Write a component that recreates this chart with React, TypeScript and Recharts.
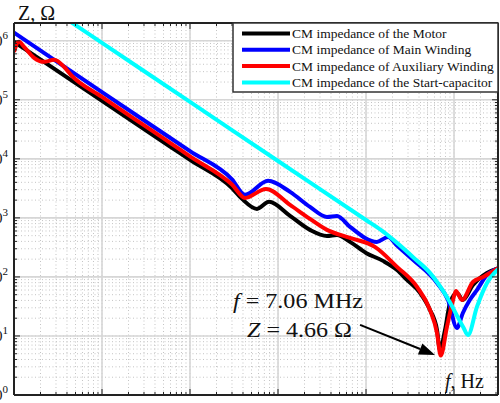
import { CartesianGrid, Line, LineChart, ReferenceLine, XAxis, YAxis } from 'recharts'

// frequency in Hz, impedance in ohms
const motorFreq = [100, 1000, 5930, 10000, 30000, 39000, 57700, 79000, 137000, 231000, 360000, 468000, 658000, 1000000, 1560000, 2250000, 2920000, 4110000, 5330000, 6410000, 6920000, 7900000, 9000000, 10800000, 12600000, 16400000, 23700000, 31600000]
const motorZ = [960000, 96000, 16200, 9600, 3200, 2100, 1420, 1870, 1080, 626, 495, 515, 392, 255, 187, 131, 89, 53.6, 27.6, 12.6, 5.8, 12.6, 36, 53.6, 40.7, 73, 117, 140]

const mainFreq = [100, 1000, 10000, 30000, 42200, 77000, 137000, 231000, 360000, 468000, 658000, 1330000, 1780000, 2250000, 3420000, 6410000, 8550000, 10800000, 12600000, 15100000, 18200000, 23700000, 31600000]
const mainZ = [1370000, 135000, 13500, 4500, 2460, 4240, 2760, 1535, 1040, 1080, 703, 392, 476, 340, 195, 79, 40.7, 13.7, 24.5, 40.7, 60, 108, 140]

const auxFreq = [100, 114, 130, 169, 219, 285, 370, 443, 1000, 5930, 10000, 30000, 42200, 73000, 137000, 231000, 360000, 658000, 1260000, 2250000, 3800000, 5330000, 6410000, 7060000, 8300000, 9750000, 10500000, 12300000, 16400000, 21400000, 31600000]
const auxZ = [650000, 960000, 790000, 515000, 440000, 477000, 363000, 265000, 112000, 18700, 11000, 3670, 2180, 3100, 1660, 962, 626, 458, 322, 148, 67.7, 27.6, 11.2, 4.66, 14.2, 40.7, 58, 40.7, 82, 100, 140]

const capFreq = [400, 1000, 10000, 100000, 1000000, 1500000, 2250000, 3500000, 5330000, 8300000, 12700000, 14400000, 18200000, 23700000, 31600000]
const capZ = [2300000, 920000, 92000, 9200, 920, 613, 377, 210, 117, 45.8, 14.2, 10.4, 31, 79, 135]

const seriesNames = [
  'CM impedance of the Motor',
  'CM impedance of Main Winding',
  'CM impedance of Auxiliary Winding',
  'CM impedance of the Start-capacitor'
]
const seriesColors = ['#000000', '#0000ff', '#ff0000', '#00ffff']

const xDecades = [1e2, 1e3, 1e4, 1e5, 1e6, 1e7]
const yDecades = [1e0, 1e1, 1e2, 1e3, 1e4, 1e5, 1e6]
const xDomain = [100, 31600000]
const yDomain = [1, 2000000]

const arrowTail = { f: 855000, z: 15.4 }
const arrowHead = { f: 6080000, z: 4.77 }

const toPoints = (freq: number[], z: number[]) => freq.map((f, i) => ({ f, z: z[i] }))
const series = [
  toPoints(motorFreq, motorZ),
  toPoints(mainFreq, mainZ),
  toPoints(auxFreq, auxZ),
  toPoints(capFreq, capZ)
]

const minorTicks = (decades: number[], max: number) =>
  decades.flatMap(d => [1, 2, 3, 4, 5, 6, 7, 8, 9].map(m => m * d)).filter(v => v <= max * 1.0001)

const xTicks = minorTicks(xDecades, xDomain[1])
const yTicks = minorTicks(yDecades, yDomain[1])

const W = 500
const H = 403
// space taken by the four axes around the plot box
const axisSize = { top: 23, right: 2, bottom: 8, left: 14 }
const plot = { left: axisSize.left, top: axisSize.top, right: W - axisSize.right, bottom: H - axisSize.bottom }
const axisColor = '#222'
const serif = '"Liberation Serif", "Times New Roman", serif'

const isDecade = (v: number) => Math.abs(Math.log10(v) - Math.round(Math.log10(v))) < 1e-6

function BottomTick({ x, payload }: any) {
  const len = isDecade(payload.value) ? 6 : 3
  return <line x1={x} x2={x} y1={plot.bottom} y2={plot.bottom - len} stroke={axisColor} />
}

function TopTick({ x, payload }: any) {
  const len = isDecade(payload.value) ? 6 : 3
  return <line x1={x} x2={x} y1={plot.top} y2={plot.top + len} stroke={axisColor} />
}

function LeftTick({ y, payload }: any) {
  const major = isDecade(payload.value)
  return (
    <g>
      <line x1={plot.left} x2={plot.left + (major ? 6 : 3)} y1={y} y2={y} stroke={axisColor} />
      {major && (
        <text x={8} y={y + 5} textAnchor="end" fontFamily={serif} fontSize={15} fill="#111">
          10<tspan dy={-7} fontSize={11}>{Math.round(Math.log10(payload.value))}</tspan>
        </text>
      )}
    </g>
  )
}

function RightTick({ y, payload }: any) {
  const len = isDecade(payload.value) ? 6 : 3
  return <line x1={plot.right} x2={plot.right - len} y1={y} y2={y} stroke={axisColor} />
}

function ArrowShape({ x1, y1, x2, y2 }: any) {
  const ang = Math.atan2(y2 - y1, x2 - x1)
  const len = 16
  const half = 6
  const bx = x2 - len * Math.cos(ang)
  const by = y2 - len * Math.sin(ang)
  const px = -Math.sin(ang) * half
  const py = Math.cos(ang) * half
  return (
    <g>
      <line x1={x1} y1={y1} x2={bx} y2={by} stroke="#000" strokeWidth={2} />
      <polygon points={`${x2},${y2} ${bx + px},${by + py} ${bx - px},${by - py}`} fill="#000" />
    </g>
  )
}

export default function App() {
  const legendTop = plot.top
  const legendLeft = 233
  const rowH = 16.3

  return (
    <div style={{ position: 'absolute', left: 0, top: 0, width: W, height: H, background: '#fff' }}>
      <LineChart width={W} height={H} margin={{ top: 0, right: 0, bottom: 0, left: 0 }}>
        <CartesianGrid stroke="#c4c4c4" strokeDasharray="1 2.5" strokeWidth={1} />
        <CartesianGrid stroke="#d6d6d6" strokeWidth={1.6} horizontalValues={yDecades} verticalValues={xDecades} />
        <XAxis
          type="number"
          dataKey="f"
          scale="log"
          domain={xDomain}
          ticks={xTicks}
          interval={0}
          allowDataOverflow
          height={axisSize.bottom}
          tickLine={false}
          tick={<BottomTick />}
          axisLine={{ stroke: axisColor, strokeWidth: 2 }}
        />
        <XAxis
          xAxisId="top"
          orientation="top"
          type="number"
          dataKey="f"
          scale="log"
          domain={xDomain}
          ticks={xTicks}
          interval={0}
          allowDataOverflow
          height={axisSize.top}
          tickLine={false}
          tick={<TopTick />}
          axisLine={{ stroke: axisColor, strokeWidth: 2 }}
        />
        <YAxis
          type="number"
          scale="log"
          domain={yDomain}
          ticks={yTicks}
          interval={0}
          allowDataOverflow
          width={axisSize.left}
          tickLine={false}
          tick={<LeftTick />}
          axisLine={{ stroke: axisColor, strokeWidth: 2 }}
        />
        <YAxis
          yAxisId="right"
          orientation="right"
          type="number"
          scale="log"
          domain={yDomain}
          ticks={yTicks}
          interval={0}
          allowDataOverflow
          width={axisSize.right}
          tickLine={false}
          tick={<RightTick />}
          axisLine={{ stroke: axisColor, strokeWidth: 2 }}
        />
        {series.map((data, i) => (
          <Line
            key={seriesNames[i]}
            data={data}
            dataKey="z"
            type="monotone"
            stroke={seriesColors[i]}
            strokeWidth={4}
            dot={false}
            isAnimationActive={false}
          />
        ))}
        <ReferenceLine
          segment={[{ x: arrowTail.f, y: arrowTail.z }, { x: arrowHead.f, y: arrowHead.z }]}
          shape={<ArrowShape />}
          ifOverflow="visible"
        />
      </LineChart>

      <svg width={W} height={H} style={{ position: 'absolute', left: 0, top: 0, pointerEvents: 'none' }}>
        <text x={18} y={19.5} fontFamily={serif} fontSize={20} fill="#111">Z, Ω</text>
        <text x={445} y={388} fontFamily={serif} fontSize={20} fill="#111">
          <tspan fontStyle="italic">f</tspan>, Hz
        </text>
        <text x={233} y={308} fontFamily={serif} fontSize={21} fill="#111" textLength={130} lengthAdjust="spacingAndGlyphs">
          <tspan fontStyle="italic">f</tspan> = 7.06 MHz
        </text>
        <text x={247} y={337} fontFamily={serif} fontSize={21} fill="#111" textLength={105} lengthAdjust="spacingAndGlyphs">
          <tspan fontStyle="italic">Z</tspan> = 4.66 Ω
        </text>

        <rect x={legendLeft} y={legendTop} width={plot.right - legendLeft} height={69} fill="#fff" stroke="#333" strokeWidth={1.5} />
        {seriesNames.map((name, i) => {
          const cy = legendTop + 10.5 + i * rowH
          return (
            <g key={name}>
              <line x1={legendLeft + 9} x2={290} y1={cy} y2={cy} stroke={seriesColors[i]} strokeWidth={4} />
              <text x={292} y={cy + 4.5} fontFamily={serif} fontSize={13.5} fill="#111">{name}</text>
            </g>
          )
        })}
      </svg>
    </div>
  )
}
